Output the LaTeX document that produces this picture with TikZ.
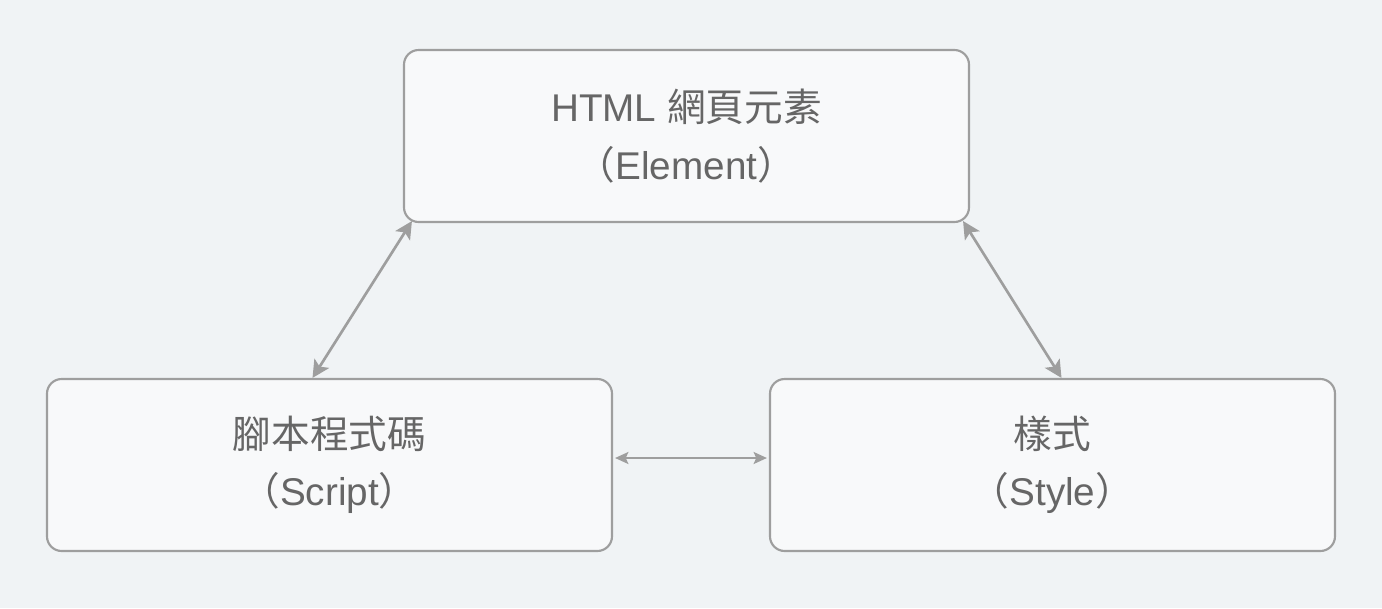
\documentclass[tikz,border=0pt]{standalone}
\usepackage{fontspec}
\setmainfont{Liberation Sans}
\newfontfamily\cjk{Noto Sans CJK TC}
\usetikzlibrary{arrows.meta,calc}
\definecolor{bg}{HTML}{F0F3F5}
\definecolor{boxfill}{HTML}{F8F9FA}
\definecolor{edge}{HTML}{9E9E9E}
\definecolor{txt}{HTML}{666666}
\begin{document}
\begin{tikzpicture}[x=0.75pt,y=-0.75pt,
  card/.style={draw=edge,line width=1.6pt,fill=boxfill,rounded corners=11pt,
    minimum width=423.75pt,minimum height=129pt,align=center,text=txt,
    font=\fontsize{29}{43}\selectfont,inner sep=0pt},
  link/.style={draw=edge,line width=2pt,{Stealth[length=13pt,width=13pt,inset=3pt]}-{Stealth[length=13pt,width=13pt,inset=3pt]}},
  hlink/.style={draw=edge,line width=1.4pt,{Stealth[length=10pt,width=9pt,inset=2pt]}-{Stealth[length=10pt,width=9pt,inset=2pt]}}]
\fill[bg] (0,0) rectangle (1382,608);
\useasboundingbox (0,0) rectangle (1382,608);
\node[card] (top) at (686.5,136) {HTML {\cjk 網頁元素}\\{\cjk （}Element{\cjk ）}};
\node[card] (bl) at (329.5,465) {{\cjk 腳本程式碼}\\{\cjk （}Script{\cjk ）}};
\node[card] (br) at (1052.5,465) {{\cjk 樣式}\\{\cjk （}Style{\cjk ）}};
\draw[link] ($(top.south west)+(9,-2)$) -- ($(bl.north)+(-17,0)$);
\draw[link] ($(top.south east)+(-7,-2)$) -- ($(br.north)+(9,0)$);
\draw[hlink] ($(bl.east)+(2,-7)$) -- ($(br.west)+(-2,-7)$);
\end{tikzpicture}
\end{document}
